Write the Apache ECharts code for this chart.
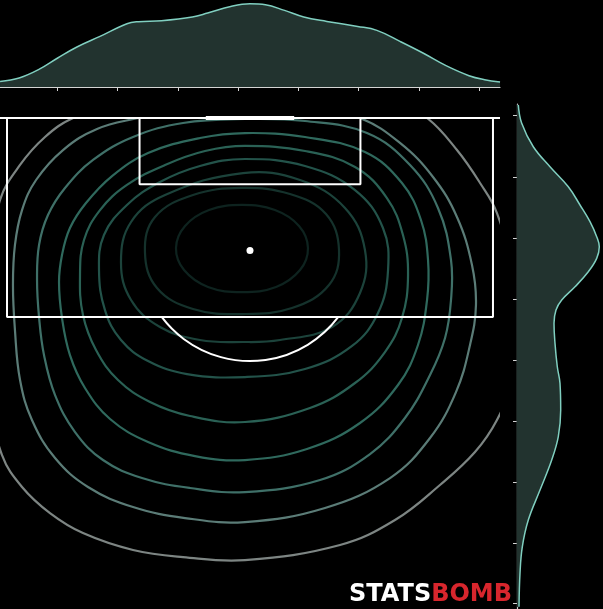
<!DOCTYPE html>
<html>
<head>
<meta charset="utf-8">
<script src="https://cdn.jsdelivr.net/npm/echarts@6.0.0/dist/echarts.min.js"></script>
<style>
html, body { margin: 0; padding: 0; background: #000; }
#chart { width: 603px; height: 609px; }
</style>
</head>
<body>
<div id="chart"></div>
<script>
// visible part of the pitch (statsbomb units, vertical half pitch)
var u_min = 17.366, u_max = 62.636
var v_min = 75.57, v_goal = 120, v_right_top = 121.27

// pitch markings
var penalty_box = [[18, 120], [18, 102], [62, 102], [62, 120]]
var six_yard_box = [[30, 120], [30, 114], [50, 114], [50, 120]]
var goal_line = [[u_min, 120], [u_max, 120]]
var goal = [[36, 120], [44, 120]]
var penalty_spot = [[40, 108]]
var penalty_arc = [[40, 108, 10]]

// density contours, innermost first
var contour_1 = [[39.28,112.13],[42.26,111.67],[44.44,110.23],[45.25,108.24],[44.53,106.24],[42.36,104.71],[39.28,104.25],[36.20,104.71],[34.03,106.24],[33.30,108.24],[34.12,110.23],[36.29,111.67]]
var contour_2 = [[39.28,113.67],[43.62,113.12],[46.88,111.31],[48.06,108.05],[47.15,104.89],[43.80,102.81],[39.28,102.26],[34.84,102.72],[31.58,104.62],[30.49,107.87],[31.40,111.04],[34.84,113.03]]
var contour_3 = [[39.37,115.02],[44.53,114.39],[48.60,111.86],[50.41,108.05],[49.96,104.16],[47.43,101.09],[42.72,99.91],[39.37,99.73],[35.47,99.91],[31.85,101.09],[29.23,103.53],[28.32,106.97],[29.23,110.59],[32.31,113.03]]
var contour_4 = [[39.55,116.29],[44.98,115.66],[49.51,113.48],[52.04,110.05],[52.50,106.24],[51.59,102.35],[49.24,99.37],[44.98,97.29],[39.55,96.56],[34.30,96.83],[30.77,98.01],[28.32,99.91],[26.87,102.62],[26.33,106.24],[26.78,109.41],[28.86,112.13],[31.85,114.21],[35.47,115.66]]
var contour_5 = [[39.55,117.47],[44.98,117.01],[49.51,115.57],[52.40,112.76],[53.85,109.41],[54.31,105.79],[53.76,101.90],[52.22,98.82],[49.51,96.02],[45.43,93.76],[39.55,92.49],[34.57,93.03],[30.95,94.30],[28.05,96.29],[26.06,99.00],[24.88,102.17],[24.61,105.79],[24.97,108.96],[26.42,111.67],[28.86,113.94],[32.31,115.75],[35.93,117.01]]
var contour_6 = [[39.55,118.64],[44.98,118.28],[50.41,116.92],[53.76,114.12],[55.48,110.77],[56.12,107.15],[56.03,103.53],[55.21,99.46],[53.40,95.84],[49.96,92.40],[45.16,90.05],[39.55,89.05],[35.02,89.41],[30.77,90.68],[27.33,92.76],[25.06,95.57],[23.70,98.55],[22.98,101.90],[22.71,105.16],[22.98,107.60],[23.70,110.05],[25.15,112.31],[27.51,114.75],[30.77,116.83],[35.47,118.19]]
var contour_7 = [[39.55,119.91],[44.98,119.73],[50.59,118.64],[54.49,115.75],[57.02,111.86],[58.20,107.15],[58.20,103.53],[57.66,100.09],[56.30,96.74],[54.03,92.85],[50.87,89.59],[46.34,87.24],[39.55,86.15],[34.57,86.52],[30.22,87.42],[26.69,89.05],[24.16,91.58],[22.35,94.93],[21.35,98.55],[20.90,101.99],[20.72,105.34],[20.90,108.51],[21.71,111.22],[23.25,113.67],[25.79,116.20],[29.41,118.28],[33.94,119.55]]
var contour_8 = [[39.55,121.36],[45.43,121.00],[49.96,120.00],[53.58,117.74],[56.57,114.66],[58.74,111.04],[60.10,106.70],[60.46,103.08],[59.92,99.46],[58.65,95.20],[56.30,91.04],[52.68,87.42],[46.79,84.71],[39.55,83.44],[34.12,83.80],[29.41,84.80],[25.33,86.61],[22.35,89.23],[20.26,92.67],[19.18,96.29],[18.72,100.81],[18.54,104.89],[18.72,108.51],[19.36,111.67],[20.63,114.39],[23.07,117.10],[26.15,119.01],[29.86,120.00],[34.57,121.00]]
var contour_9 = [[40.00,122.72],[49.06,122.08],[53.58,121.09],[56.03,120.00],[58.74,117.10],[60.83,114.12],[62.36,111.40],[63.72,106.24],[63.99,100.81],[63.54,95.84],[62.36,92.67],[60.37,89.77],[57.20,86.79],[53.13,83.62],[48.15,81.36],[39.55,80.00],[33.94,80.27],[29.41,80.91],[24.88,82.44],[21.89,84.25],[19.36,86.61],[17.55,89.50],[16.46,94.48],[16.01,100.81],[16.46,107.15],[17.37,112.58],[19.18,115.75],[21.44,118.28],[23.98,120.00],[29.14,121.81],[34.57,122.53]]
var contour_colors = ['#0e231f', '#15322c', '#1c433b', '#23534a', '#2a6155', '#2f695d', '#3f7068', '#5b7c77', '#7d8583']

// marginal density along the pitch width (top)
var top_u = [17.37, 19.10, 20.85, 22.59, 24.33, 26.42, 28.86, 29.91, 31.99, 34.78, 36.17, 38.26, 40.00, 41.40, 43.13, 44.87, 46.96, 49.75, 51.49, 53.58, 55.66, 57.75, 59.83, 61.24, 62.64]
var top_density = [0.0056, 0.0090, 0.0173, 0.0290, 0.0400, 0.0506, 0.0633, 0.0653, 0.0663, 0.0700, 0.0740, 0.0806, 0.0833, 0.0823, 0.0766, 0.0700, 0.0656, 0.0606, 0.0566, 0.0456, 0.0340, 0.0213, 0.0113, 0.0073, 0.0050]
var top_ticks = [22.59, 27.99, 33.53, 38.96, 44.39, 49.82, 55.34, 60.79]

// marginal density along the pitch length (right)
var right_v = [121.18, 119.52, 117.40, 115.59, 113.78, 112.13, 110.62, 109.26, 108.35, 107.30, 106.09, 104.73, 103.53, 102.62, 101.42, 99.61, 97.49, 95.99, 93.57, 91.16, 89.05, 86.33, 83.62, 81.20, 78.80, 75.77]
var right_density = [0.0013, 0.0047, 0.0163, 0.0330, 0.0513, 0.0630, 0.0730, 0.0797, 0.0823, 0.0797, 0.0713, 0.0580, 0.0447, 0.0390, 0.0370, 0.0380, 0.0403, 0.0430, 0.0437, 0.0413, 0.0347, 0.0230, 0.0113, 0.0053, 0.0030, 0.0020]
var right_ticks = [120.27, 114.66, 109.14, 103.62, 98.10, 92.58, 87.06, 81.54, 76.11]

var fill_color = '#22332f'
var kde_line = '#80cfc0'
var axis_gray = '#d4d4d4'

function pitch_line(data, width) {
    return {
        type: 'line',
        xAxisIndex: 0,
        yAxisIndex: 0,
        data: data,
        symbol: 'none',
        clip: false,
        silent: true,
        z: 10,
        lineStyle: { color: '#ffffff', width: width, cap: 'butt' },
    }
}

// closed smooth loop through the read-off contour points
function contour_series(points, color) {
    return {
        type: 'custom',
        xAxisIndex: 0,
        yAxisIndex: 0,
        data: [points[0]],
        clip: true,
        silent: true,
        z: 2,
        renderItem: function (params, api) {
            var px = points.map(function (p) { return api.coord(p) })
            return {
                type: 'polygon',
                shape: { points: px, smooth: 0.4 },
                style: { fill: 'none', stroke: color, lineWidth: 2.2 },
            }
        },
    }
}

var series = []
var contours = [contour_1, contour_2, contour_3, contour_4, contour_5, contour_6, contour_7, contour_8, contour_9]
for (var i = 0; i < contours.length; i++) {
    series.push(contour_series(contours[i], contour_colors[i]))
}

series.push(pitch_line(goal_line, 2))
series.push(pitch_line(penalty_box, 2))
series.push(pitch_line(six_yard_box, 2))
series.push(pitch_line(goal, 4))
series.push({
    type: 'scatter',
    xAxisIndex: 0,
    yAxisIndex: 0,
    data: penalty_spot,
    symbolSize: 7,
    silent: true,
    z: 10,
    itemStyle: { color: '#ffffff', opacity: 1 },
})
series.push({
    type: 'custom',
    xAxisIndex: 0,
    yAxisIndex: 0,
    data: penalty_arc,
    silent: true,
    z: 10,
    clip: false,
    renderItem: function (params, api) {
        var c = api.coord([api.value(0), api.value(1)])
        var r = api.size([api.value(2), 0])[0]
        var edge = api.coord([api.value(0), penalty_box[1][1]])
        var a = Math.asin(Math.min(1, (edge[1] - c[1]) / r))
        return {
            type: 'arc',
            shape: { cx: c[0], cy: c[1], r: r, startAngle: a, endAngle: Math.PI - a, clockwise: true },
            style: { stroke: '#ffffff', lineWidth: 2, fill: 'none' },
        }
    },
})

// top marginal
series.push({
    type: 'line',
    xAxisIndex: 1,
    yAxisIndex: 1,
    data: top_u.map(function (u, k) { return [u, top_density[k]] }),
    smooth: 0.4,
    symbol: 'none',
    silent: true,
    lineStyle: { color: kde_line, width: 1.5 },
    areaStyle: { color: fill_color, opacity: 1 },
})

// right marginal: fill towards the axis on the left, then the outline
series.push({
    type: 'custom',
    xAxisIndex: 2,
    yAxisIndex: 2,
    data: [[0, right_v[0]]],
    silent: true,
    renderItem: function (params, api) {
        var pts = [api.coord([0, right_v[0]])]
        for (var k = 0; k < right_v.length; k++) {
            pts.push(api.coord([right_density[k], right_v[k]]))
        }
        pts.push(api.coord([0, right_v[right_v.length - 1]]))
        return { type: 'polygon', shape: { points: pts, smooth: 0.3 }, style: { fill: fill_color } }
    },
})
series.push({
    type: 'line',
    xAxisIndex: 2,
    yAxisIndex: 2,
    data: right_v.map(function (v, k) { return [right_density[k], v] }),
    smooth: 0.4,
    symbol: 'none',
    silent: true,
    z: 3,
    lineStyle: { color: kde_line, width: 1.5 },
})

var option = {
    backgroundColor: '#000000',
    animation: false,
    grid: [
        { left: 0, top: 118, width: 500, height: 491 },
        { left: 0, top: 0, width: 500, height: 87 },
        { left: 517, top: 104, width: 86, height: 505 },
    ],
    xAxis: [
        { gridIndex: 0, type: 'value', min: u_min, max: u_max, show: false },
        {
            gridIndex: 1, type: 'value', min: u_min, max: u_max,
            axisLine: { show: true, onZero: false, lineStyle: { color: axis_gray, width: 1.2 } },
            axisTick: { show: true, customValues: top_ticks, length: 4, lineStyle: { color: axis_gray, width: 1 } },
            axisLabel: { show: false },
            splitLine: { show: false },
        },
        { gridIndex: 2, type: 'value', min: 0, max: 0.086, show: false },
    ],
    yAxis: [
        { gridIndex: 0, type: 'value', min: v_min, max: v_goal, show: false },
        { gridIndex: 1, type: 'value', min: 0, max: 0.087, show: false },
        {
            gridIndex: 2, type: 'value', min: v_min, max: v_right_top,
            axisLine: { show: true, onZero: false, lineStyle: { color: axis_gray, width: 1.2 } },
            axisTick: { show: true, customValues: right_ticks, length: 4, lineStyle: { color: axis_gray, width: 1 } },
            axisLabel: { show: false },
            splitLine: { show: false },
        },
    ],
    graphic: [
        {
            type: 'text',
            left: 349,
            top: 583,
            z: 20,
            style: {
                text: '{a|STATS}{b|BOMB}',
                rich: {
                    a: { fill: '#ffffff', fontSize: 24, fontWeight: 'bold', fontFamily: 'DejaVu Sans' },
                    b: { fill: '#d8262d', fontSize: 24, fontWeight: 'bold', fontFamily: 'DejaVu Sans' },
                },
            },
        },
    ],
    series: series,
}

var myChart = echarts.init(document.getElementById('chart'))
myChart.setOption(option)
</script>
</body>
</html>
